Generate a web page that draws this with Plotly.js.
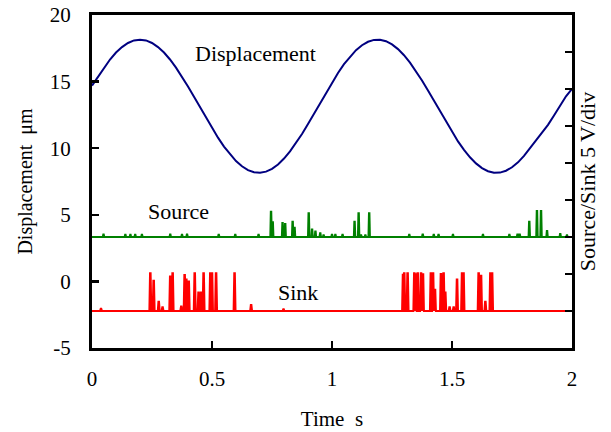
<!DOCTYPE html>
<html><head><meta charset="utf-8">
<script src="https://cdn.plot.ly/plotly-3.0.1.min.js"></script>
<style>html,body{margin:0;padding:0;background:#fff}</style>
</head><body><div id="plot" style="width:611px;height:432px"></div>
<script>
// Displacement, sampled every 0.025 s from 0 to 2 s (µm)
const dispTime = [];
for (let k = 0; k <= 80; k++) dispTime.push(+(k * 0.025).toFixed(3));
const dispValues = [14.70,15.37,16.05,16.66,17.18,17.59,17.90,18.09,18.15,18.09,17.90,17.59,17.18,16.66,16.05,15.37,14.63,13.86,13.07,12.28,11.51,10.79,10.12,9.53,9.03,8.64,8.35,8.19,8.15,8.24,8.45,8.78,9.22,9.76,10.38,11.07,11.82,12.60,13.39,14.17,14.93,15.65,16.31,16.88,17.36,17.73,17.99,18.13,18.14,18.03,17.79,17.44,16.98,16.42,15.79,15.08,14.33,13.55,12.75,11.97,11.22,10.51,9.88,9.32,8.86,8.51,8.27,8.16,8.17,8.31,8.57,8.94,9.42,9.99,10.60,11.20,11.75,12.45,13.20,13.90,14.45];

// Source pulses (right axis, divisions): baseline and peak values
const sourceBase = 3;
const sourceTimes = [0.048,0.139,0.160,0.180,0.208,0.326,0.375,0.396,0.528,0.597,0.694,0.746,0.753,0.794,0.805,0.836,0.844,0.903,0.917,0.931,0.951,0.965,1.000,1.014,1.044,1.094,1.111,1.121,1.139,1.155,1.322,1.378,1.424,1.444,1.504,1.629,1.739,1.773,1.782,1.822,1.854,1.871,1.896,1.951,1.979];
const sourcePeaks = [3.07,3.06,3.06,3.06,3.06,3.07,3.06,3.07,3.06,3.06,3.06,3.68,3.40,3.38,3.35,3.41,3.25,3.64,3.20,3.15,3.10,3.05,3.06,3.06,3.06,3.41,3.64,3.05,3.05,3.64,3.06,3.07,3.06,3.06,3.06,3.06,3.06,3.07,3.07,3.41,3.70,3.70,3.16,3.08,3.05];

// Sink pulses (right axis, divisions)
const sinkBase = 1;
const sinkTimes = [0.0375,0.243,0.257,0.278,0.294,0.326,0.336,0.372,0.386,0.393,0.403,0.428,0.444,0.455,0.465,0.493,0.500,0.517,0.594,0.663,0.704,0.798,1.296,1.301,1.315,1.343,1.351,1.357,1.371,1.379,1.412,1.421,1.429,1.454,1.465,1.472,1.490,1.507,1.521,1.542,1.548,1.611,1.621,1.639,1.660,1.667];
const sinkPeaks = [1.06,2.02,1.82,1.25,1.10,1.93,2.02,1.12,1.97,1.85,1.80,2.02,1.50,1.50,2.02,2.02,2.02,2.02,2.02,1.16,1.02,1.05,1.98,2.02,2.02,2.02,2.02,2.02,2.02,2.02,2.02,2.02,1.60,2.00,2.02,1.50,1.10,1.10,1.85,2.02,2.02,2.02,1.95,1.25,2.02,2.02];

const xTickVals = [0,0.5,1,1.5,2];
const xTickText = ['0','0.5','1','1.5','2'];
const yTickVals = [-5,0,5,10,15,20];
const yTickText = ['-5','0','5','10','15','20'];

function pulseTrain(times, peaks, base, hw) {
  const x = [0], y = [base];
  times.forEach((t, i) => {
    x.push(t - hw, t - hw * 0.3, t + hw * 0.3, t + hw);
    y.push(base, peaks[i], peaks[i], base);
  });
  x.push(2); y.push(base);
  return {x, y};
}
const src = pulseTrain(sourceTimes, sourcePeaks, sourceBase, 0.003);
const snk = pulseTrain(sinkTimes, sinkPeaks, sinkBase, 0.004);

const fam = '"Liberation Serif","Times New Roman",serif';
const f = s => ({family: fam, size: s, color: '#000'});

const traces = [
  {x: dispTime, y: dispValues, type: 'scatter', mode: 'lines', line: {color: '#000080', width: 2}, hoverinfo: 'skip'},
  {x: src.x, y: src.y, yaxis: 'y2', type: 'scatter', mode: 'lines', line: {color: '#008000', width: 2}, hoverinfo: 'skip'},
  {x: snk.x, y: snk.y, yaxis: 'y2', type: 'scatter', mode: 'lines', line: {color: '#ff0000', width: 2}, hoverinfo: 'skip'}
];

const layout = {
  width: 611, height: 432,
  margin: {l: 92, r: 39, t: 15, b: 84},
  paper_bgcolor: '#fff', plot_bgcolor: '#fff',
  showlegend: false,
  font: f(20),
  xaxis: {
    range: [0, 2], tickvals: xTickVals, ticktext: xTickText,
    ticks: 'inside', ticklen: 7, tickwidth: 2.5, tickcolor: '#000',
    showline: true, linewidth: 3, linecolor: '#000', mirror: true,
    showgrid: false, zeroline: false, ticklabelstandoff: 10,
    tickfont: f(21),
    title: {text: 'Time\u00a0\u00a0s', font: f(21), standoff: 22}
  },
  yaxis: {
    range: [-5, 20], tickvals: yTickVals, ticktext: yTickText,
    ticks: 'inside', ticklen: 7, tickwidth: 2.5, tickcolor: '#000',
    showline: true, linewidth: 3, linecolor: '#000',
    showgrid: false, zeroline: false, ticklabelstandoff: 14,
    tickfont: f(21),
    title: {text: 'Displacement\u00a0\u00a0μm', font: f(20), standoff: 12}
  },
  yaxis2: {
    range: [0, 9], dtick: 1, overlaying: 'y', side: 'right',
    ticks: 'inside', ticklen: 7, tickwidth: 2.5, tickcolor: '#000',
    showticklabels: false,
    showline: true, linewidth: 3, linecolor: '#000',
    showgrid: false, zeroline: false,
    title: {text: 'Source/Sink 5 V/div', font: f(22), standoff: 6}
  },
  annotations: [
    {x: 0.68, y: 17.1, xref: 'x', yref: 'y', text: 'Displacement', showarrow: false, font: f(22)},
    {x: 0.36, y: 3.68, xref: 'x', yref: 'y2', text: 'Source', showarrow: false, font: f(22)},
    {x: 0.86, y: 1.49, xref: 'x', yref: 'y2', text: 'Sink', showarrow: false, font: f(22)}
  ]
};

Plotly.newPlot('plot', traces, layout, {staticPlot: true, displayModeBar: false});
</script></body></html>
